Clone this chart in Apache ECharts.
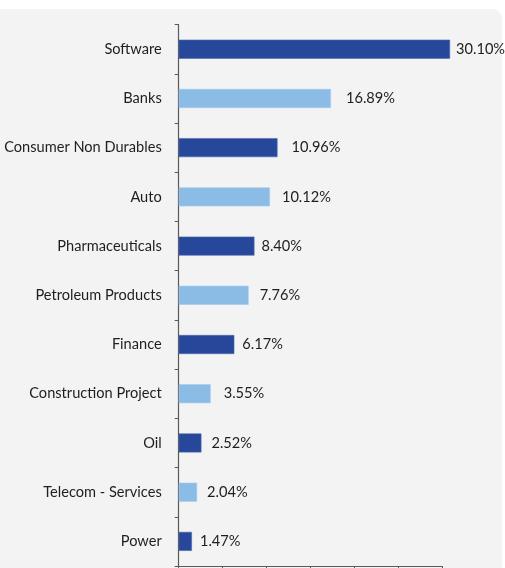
<!DOCTYPE html>
<html>
<head>
<meta charset="utf-8">
<script src="https://cdn.jsdelivr.net/npm/echarts@6/dist/echarts.min.js"></script>
<style>
  html, body { margin: 0; padding: 0; background: #ffffff; }
  #chart { width: 505px; height: 568px; }
</style>
</head>
<body>
<div id="chart"></div>
<script>
// Sector allocation (% of portfolio)
const sectors = [
  'Software', 'Banks', 'Consumer Non Durables', 'Auto', 'Pharmaceuticals',
  'Petroleum Products', 'Finance', 'Construction Project', 'Oil',
  'Telecom - Services', 'Power'
];
const weights = [30.10, 16.89, 10.96, 10.12, 8.40, 7.76, 6.17, 3.55, 2.52, 2.04, 1.47];

const darkBlue = '#27479a';
const lightBlue = '#8bbce6';

// Gap in px between each bar end and its value label
const labelGaps = [6, 15, 14, 12, 7, 11, 8, 13, 10, 10, 8];

// Horizontal axis runs a little short of the longest bar, six even steps
const axisMax = 29.24;
const axisStep = axisMax / 6;

const textFont = { color: '#1e1e1e', fontFamily: 'Lato', fontSize: 14.6 };

const barData = weights.map((v, i) => {
  const dark = i % 2 === 0;
  return {
    value: v,
    itemStyle: {
      color: dark ? darkBlue : lightBlue,
      borderColor: dark ? '#4d69b0' : '#a5cbee',
      borderWidth: 0.6
    },
    label: { distance: labelGaps[i] }
  };
});

const chart = echarts.init(document.getElementById('chart'), null, { renderer: 'canvas' });
chart.setOption({
  animation: false,
  backgroundColor: '#ffffff',
  graphic: [{
    type: 'rect',
    z: -10,
    silent: true,
    shape: { x: -12, y: 9, width: 514, height: 600, r: 9 },
    style: { fill: '#f3f3f3' }
  }],
  grid: { left: 178.7, right: 62.7, top: 24.6, bottom: 2, containLabel: false },
  xAxis: {
    type: 'value',
    min: 0,
    max: axisMax,
    interval: axisStep,
    axisLine: { show: true, lineStyle: { color: '#5a5a5a', width: 1.2 } },
    axisTick: { show: true, length: 5, lineStyle: { color: '#5a5a5a' } },
    axisLabel: { show: false },
    splitLine: { show: false }
  },
  yAxis: {
    type: 'category',
    inverse: true,
    data: sectors,
    axisLine: { show: true, lineStyle: { color: '#5a5a5a', width: 1.2 } },
    axisTick: { show: true, length: 4, alignWithLabel: false, lineStyle: { color: '#5a5a5a' } },
    axisLabel: Object.assign({ margin: 17 }, textFont)
  },
  series: [{
    type: 'bar',
    data: barData,
    barWidth: 19,
    clip: false,
    label: Object.assign({
      show: true,
      position: 'right',
      formatter: p => p.value.toFixed(2) + '%'
    }, textFont)
  }]
});
</script>
</body>
</html>
